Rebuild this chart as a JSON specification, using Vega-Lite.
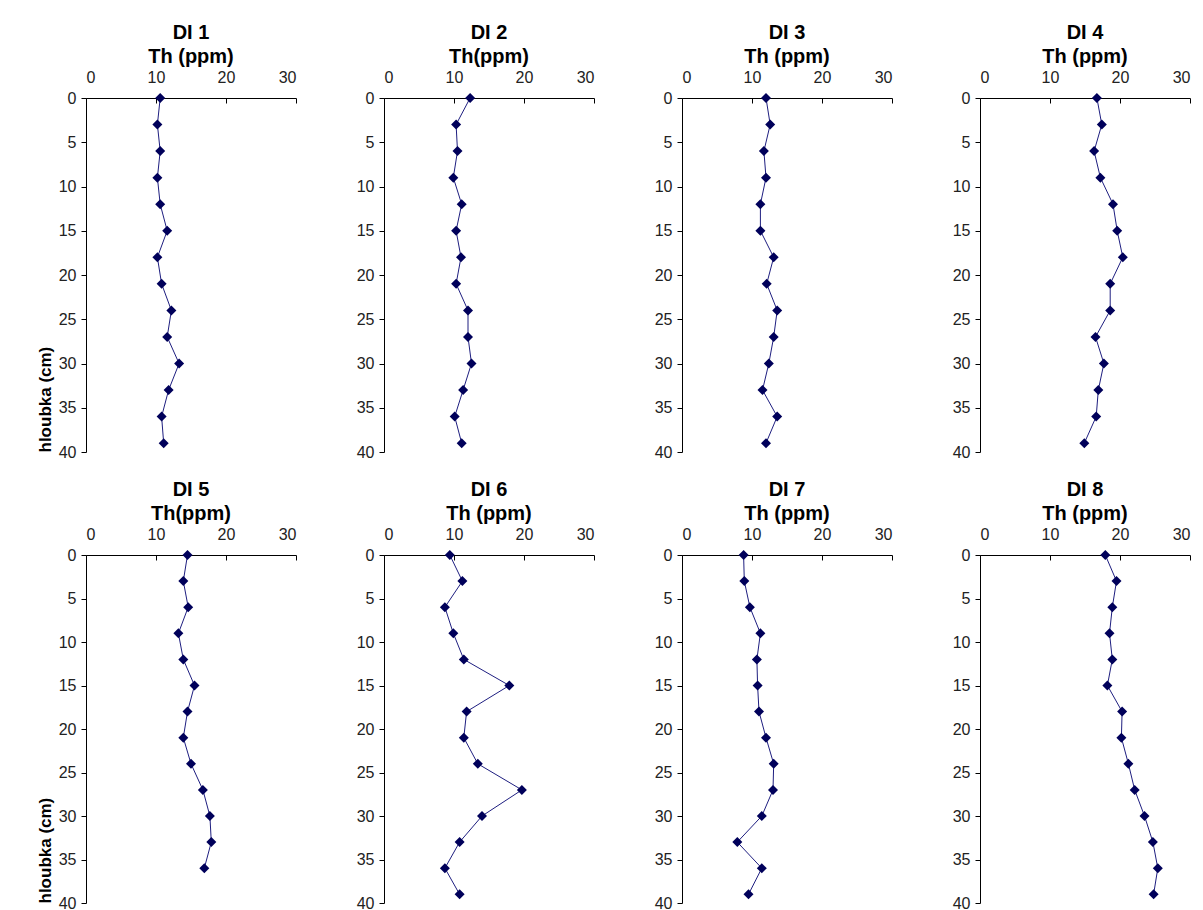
{
  "$schema": "https://vega.github.io/schema/vega-lite/v6.json",
  "background": "white",
  "padding": {"left": 36, "top": 23, "right": 5, "bottom": 0},
  "datasets": {
    "d": [
      {"p": 1, "depth": 0, "th": 10.6}, {"p": 1, "depth": 3, "th": 10.2}, {"p": 1, "depth": 6, "th": 10.6}, {"p": 1, "depth": 9, "th": 10.2}, {"p": 1, "depth": 12, "th": 10.6}, {"p": 1, "depth": 15, "th": 11.6}, {"p": 1, "depth": 18, "th": 10.2}, {"p": 1, "depth": 21, "th": 10.8}, {"p": 1, "depth": 24, "th": 12.2}, {"p": 1, "depth": 27, "th": 11.6}, {"p": 1, "depth": 30, "th": 13.3}, {"p": 1, "depth": 33, "th": 11.8}, {"p": 1, "depth": 36, "th": 10.8}, {"p": 1, "depth": 39, "th": 11.1},
      {"p": 2, "depth": 0, "th": 12.3}, {"p": 2, "depth": 3, "th": 10.3}, {"p": 2, "depth": 6, "th": 10.5}, {"p": 2, "depth": 9, "th": 9.9}, {"p": 2, "depth": 12, "th": 11.1}, {"p": 2, "depth": 15, "th": 10.3}, {"p": 2, "depth": 18, "th": 11.0}, {"p": 2, "depth": 21, "th": 10.3}, {"p": 2, "depth": 24, "th": 12.0}, {"p": 2, "depth": 27, "th": 12.0}, {"p": 2, "depth": 30, "th": 12.5}, {"p": 2, "depth": 33, "th": 11.3}, {"p": 2, "depth": 36, "th": 10.1}, {"p": 2, "depth": 39, "th": 11.1},
      {"p": 3, "depth": 0, "th": 12.0}, {"p": 3, "depth": 3, "th": 12.6}, {"p": 3, "depth": 6, "th": 11.7}, {"p": 3, "depth": 9, "th": 12.0}, {"p": 3, "depth": 12, "th": 11.2}, {"p": 3, "depth": 15, "th": 11.2}, {"p": 3, "depth": 18, "th": 13.1}, {"p": 3, "depth": 21, "th": 12.1}, {"p": 3, "depth": 24, "th": 13.6}, {"p": 3, "depth": 27, "th": 13.1}, {"p": 3, "depth": 30, "th": 12.4}, {"p": 3, "depth": 33, "th": 11.5}, {"p": 3, "depth": 36, "th": 13.6}, {"p": 3, "depth": 39, "th": 12.0},
      {"p": 4, "depth": 0, "th": 16.7}, {"p": 4, "depth": 3, "th": 17.4}, {"p": 4, "depth": 6, "th": 16.3}, {"p": 4, "depth": 9, "th": 17.2}, {"p": 4, "depth": 12, "th": 19.0}, {"p": 4, "depth": 15, "th": 19.6}, {"p": 4, "depth": 18, "th": 20.4}, {"p": 4, "depth": 21, "th": 18.6}, {"p": 4, "depth": 24, "th": 18.6}, {"p": 4, "depth": 27, "th": 16.5}, {"p": 4, "depth": 30, "th": 17.7}, {"p": 4, "depth": 33, "th": 16.9}, {"p": 4, "depth": 36, "th": 16.6}, {"p": 4, "depth": 39, "th": 14.9},
      {"p": 5, "depth": 0, "th": 14.5}, {"p": 5, "depth": 3, "th": 13.9}, {"p": 5, "depth": 6, "th": 14.6}, {"p": 5, "depth": 9, "th": 13.2}, {"p": 5, "depth": 12, "th": 13.9}, {"p": 5, "depth": 15, "th": 15.5}, {"p": 5, "depth": 18, "th": 14.5}, {"p": 5, "depth": 21, "th": 13.9}, {"p": 5, "depth": 24, "th": 15.0}, {"p": 5, "depth": 27, "th": 16.7}, {"p": 5, "depth": 30, "th": 17.7}, {"p": 5, "depth": 33, "th": 17.9}, {"p": 5, "depth": 36, "th": 16.9},
      {"p": 6, "depth": 0, "th": 9.4}, {"p": 6, "depth": 3, "th": 11.2}, {"p": 6, "depth": 6, "th": 8.7}, {"p": 6, "depth": 9, "th": 9.9}, {"p": 6, "depth": 12, "th": 11.4}, {"p": 6, "depth": 15, "th": 17.9}, {"p": 6, "depth": 18, "th": 11.8}, {"p": 6, "depth": 21, "th": 11.4}, {"p": 6, "depth": 24, "th": 13.4}, {"p": 6, "depth": 27, "th": 19.7}, {"p": 6, "depth": 30, "th": 14.0}, {"p": 6, "depth": 33, "th": 10.8}, {"p": 6, "depth": 36, "th": 8.7}, {"p": 6, "depth": 39, "th": 10.8},
      {"p": 7, "depth": 0, "th": 8.8}, {"p": 7, "depth": 3, "th": 8.9}, {"p": 7, "depth": 6, "th": 9.7}, {"p": 7, "depth": 9, "th": 11.2}, {"p": 7, "depth": 12, "th": 10.7}, {"p": 7, "depth": 15, "th": 10.8}, {"p": 7, "depth": 18, "th": 11.0}, {"p": 7, "depth": 21, "th": 12.0}, {"p": 7, "depth": 24, "th": 13.1}, {"p": 7, "depth": 27, "th": 13.0}, {"p": 7, "depth": 30, "th": 11.4}, {"p": 7, "depth": 33, "th": 7.9}, {"p": 7, "depth": 36, "th": 11.4}, {"p": 7, "depth": 39, "th": 9.5},
      {"p": 8, "depth": 0, "th": 17.9}, {"p": 8, "depth": 3, "th": 19.5}, {"p": 8, "depth": 6, "th": 18.9}, {"p": 8, "depth": 9, "th": 18.5}, {"p": 8, "depth": 12, "th": 18.9}, {"p": 8, "depth": 15, "th": 18.2}, {"p": 8, "depth": 18, "th": 20.3}, {"p": 8, "depth": 21, "th": 20.2}, {"p": 8, "depth": 24, "th": 21.2}, {"p": 8, "depth": 27, "th": 22.1}, {"p": 8, "depth": 30, "th": 23.5}, {"p": 8, "depth": 33, "th": 24.7}, {"p": 8, "depth": 36, "th": 25.4}, {"p": 8, "depth": 39, "th": 24.8}
    ]
  },
  "data": {"name": "d"},
  "columns": 4,
  "spacing": {"column": 59, "row": 20},
  "concat": [
    {"title": {"text": ["DI 1", "Th (ppm)"]}, "width": 210, "height": 354, "transform": [{"filter": "datum.p == 1"}],
     "encoding": {"x": {"field": "th", "type": "quantitative", "scale": {"domain": [0, 30]}, "axis": {"orient": "top", "values": [0, 10, 20, 30], "title": null}},
                  "y": {"field": "depth", "type": "quantitative", "scale": {"domain": [0, 40], "reverse": true}, "axis": {"values": [0, 5, 10, 15, 20, 25, 30, 35, 40], "title": "hloubka (cm)", "titleAnchor": "end", "titleAlign": "left"}}},
     "layer": [{"mark": {"type": "line", "color": "#1e1e80", "strokeWidth": 1}, "encoding": {"order": {"field": "depth"}}},
               {"mark": {"type": "point", "shape": "diamond", "filled": true, "color": "#00005a", "size": 100, "opacity": 1}}]},
    {"title": {"text": ["DI 2", "Th(ppm)"]}, "width": 210, "height": 354, "transform": [{"filter": "datum.p == 2"}],
     "encoding": {"x": {"field": "th", "type": "quantitative", "scale": {"domain": [0, 30]}, "axis": {"orient": "top", "values": [0, 10, 20, 30], "title": null}},
                  "y": {"field": "depth", "type": "quantitative", "scale": {"domain": [0, 40], "reverse": true}, "axis": {"values": [0, 5, 10, 15, 20, 25, 30, 35, 40], "title": null}}},
     "layer": [{"mark": {"type": "line", "color": "#1e1e80", "strokeWidth": 1}, "encoding": {"order": {"field": "depth"}}},
               {"mark": {"type": "point", "shape": "diamond", "filled": true, "color": "#00005a", "size": 100, "opacity": 1}}]},
    {"title": {"text": ["DI 3", "Th (ppm)"]}, "width": 210, "height": 354, "transform": [{"filter": "datum.p == 3"}],
     "encoding": {"x": {"field": "th", "type": "quantitative", "scale": {"domain": [0, 30]}, "axis": {"orient": "top", "values": [0, 10, 20, 30], "title": null}},
                  "y": {"field": "depth", "type": "quantitative", "scale": {"domain": [0, 40], "reverse": true}, "axis": {"values": [0, 5, 10, 15, 20, 25, 30, 35, 40], "title": null}}},
     "layer": [{"mark": {"type": "line", "color": "#1e1e80", "strokeWidth": 1}, "encoding": {"order": {"field": "depth"}}},
               {"mark": {"type": "point", "shape": "diamond", "filled": true, "color": "#00005a", "size": 100, "opacity": 1}}]},
    {"title": {"text": ["DI 4", "Th (ppm)"]}, "width": 210, "height": 354, "transform": [{"filter": "datum.p == 4"}],
     "encoding": {"x": {"field": "th", "type": "quantitative", "scale": {"domain": [0, 30]}, "axis": {"orient": "top", "values": [0, 10, 20, 30], "title": null}},
                  "y": {"field": "depth", "type": "quantitative", "scale": {"domain": [0, 40], "reverse": true}, "axis": {"values": [0, 5, 10, 15, 20, 25, 30, 35, 40], "title": null}}},
     "layer": [{"mark": {"type": "line", "color": "#1e1e80", "strokeWidth": 1}, "encoding": {"order": {"field": "depth"}}},
               {"mark": {"type": "point", "shape": "diamond", "filled": true, "color": "#00005a", "size": 100, "opacity": 1}}]},
    {"title": {"text": ["DI 5", "Th(ppm)"]}, "width": 210, "height": 348, "transform": [{"filter": "datum.p == 5"}],
     "encoding": {"x": {"field": "th", "type": "quantitative", "scale": {"domain": [0, 30]}, "axis": {"orient": "top", "values": [0, 10, 20, 30], "title": null}},
                  "y": {"field": "depth", "type": "quantitative", "scale": {"domain": [0, 40], "reverse": true}, "axis": {"values": [0, 5, 10, 15, 20, 25, 30, 35, 40], "title": "hloubka (cm)", "titleAnchor": "end", "titleAlign": "left"}}},
     "layer": [{"mark": {"type": "line", "color": "#1e1e80", "strokeWidth": 1}, "encoding": {"order": {"field": "depth"}}},
               {"mark": {"type": "point", "shape": "diamond", "filled": true, "color": "#00005a", "size": 100, "opacity": 1}}]},
    {"title": {"text": ["DI 6", "Th (ppm)"]}, "width": 210, "height": 348, "transform": [{"filter": "datum.p == 6"}],
     "encoding": {"x": {"field": "th", "type": "quantitative", "scale": {"domain": [0, 30]}, "axis": {"orient": "top", "values": [0, 10, 20, 30], "title": null}},
                  "y": {"field": "depth", "type": "quantitative", "scale": {"domain": [0, 40], "reverse": true}, "axis": {"values": [0, 5, 10, 15, 20, 25, 30, 35, 40], "title": null}}},
     "layer": [{"mark": {"type": "line", "color": "#1e1e80", "strokeWidth": 1}, "encoding": {"order": {"field": "depth"}}},
               {"mark": {"type": "point", "shape": "diamond", "filled": true, "color": "#00005a", "size": 100, "opacity": 1}}]},
    {"title": {"text": ["DI 7", "Th (ppm)"]}, "width": 210, "height": 348, "transform": [{"filter": "datum.p == 7"}],
     "encoding": {"x": {"field": "th", "type": "quantitative", "scale": {"domain": [0, 30]}, "axis": {"orient": "top", "values": [0, 10, 20, 30], "title": null}},
                  "y": {"field": "depth", "type": "quantitative", "scale": {"domain": [0, 40], "reverse": true}, "axis": {"values": [0, 5, 10, 15, 20, 25, 30, 35, 40], "title": null}}},
     "layer": [{"mark": {"type": "line", "color": "#1e1e80", "strokeWidth": 1}, "encoding": {"order": {"field": "depth"}}},
               {"mark": {"type": "point", "shape": "diamond", "filled": true, "color": "#00005a", "size": 100, "opacity": 1}}]},
    {"title": {"text": ["DI 8", "Th (ppm)"]}, "width": 210, "height": 348, "transform": [{"filter": "datum.p == 8"}],
     "encoding": {"x": {"field": "th", "type": "quantitative", "scale": {"domain": [0, 30]}, "axis": {"orient": "top", "values": [0, 10, 20, 30], "title": null}},
                  "y": {"field": "depth", "type": "quantitative", "scale": {"domain": [0, 40], "reverse": true}, "axis": {"values": [0, 5, 10, 15, 20, 25, 30, 35, 40], "title": null}}},
     "layer": [{"mark": {"type": "line", "color": "#1e1e80", "strokeWidth": 1}, "encoding": {"order": {"field": "depth"}}},
               {"mark": {"type": "point", "shape": "diamond", "filled": true, "color": "#00005a", "size": 100, "opacity": 1}}]}
  ],
  "config": {
    "view": {"stroke": null},
    "font": "Liberation Sans",
    "title": {"font": "Liberation Sans", "fontSize": 20, "fontWeight": "bold", "color": "#000000", "lineHeight": 24, "offset": 2, "anchor": "middle"},
    "axis": {"grid": false, "domainColor": "#000000", "tickColor": "#000000", "labelColor": "#222222", "labelFont": "Liberation Sans", "labelFontSize": 16, "tickSize": 5, "labelPadding": 5,
             "titleFont": "Liberation Sans", "titleFontSize": 17, "titleFontWeight": "bold", "titleColor": "#000000", "titlePadding": 4},
    "axisX": {"tickSize": -5, "labelPadding": 18}
  }
}
